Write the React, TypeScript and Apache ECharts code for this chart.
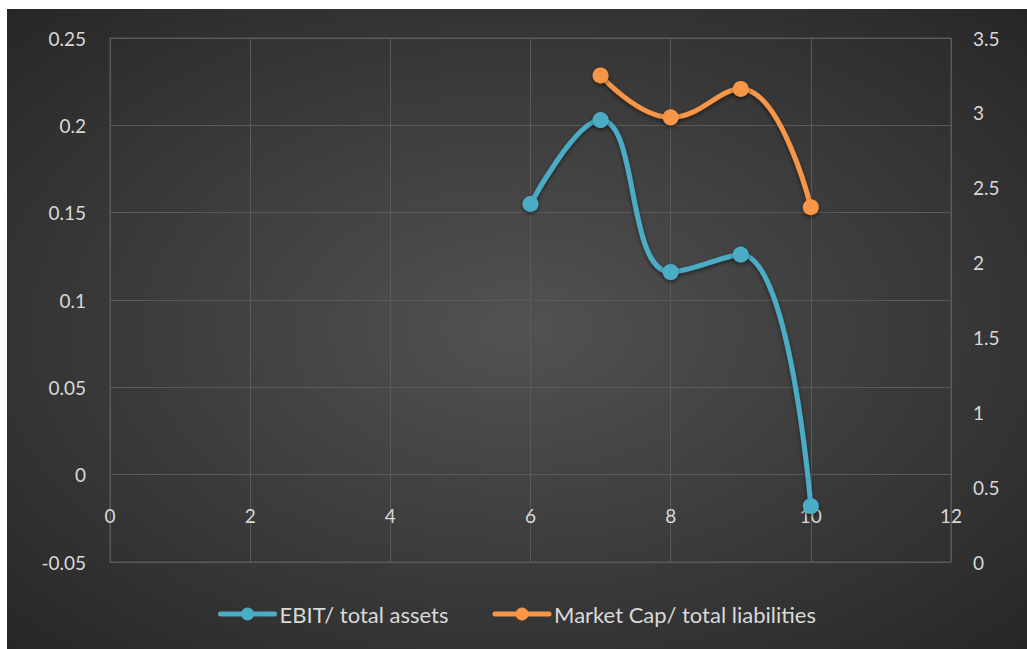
import React, { useEffect, useRef } from "react";
import * as echarts from "echarts";

const xValues = [6, 7, 8, 9, 10];
const ebitAssets = [0.155, 0.203, 0.116, 0.126, -0.018];
const marketCapLiab = [null, 3.25, 2.97, 3.16, 2.37];
const seriesNames = ["EBIT/ total assets", "Market Cap/ total liabilities"];

const FONT = "Lato";
const TEXT = "#d9d9d9";
const GRID = "#5a5a5a";

export default function App() {
  const ref = useRef<HTMLDivElement>(null);
  useEffect(() => {
    if (!ref.current) return;
    const chart = echarts.init(ref.current, null, { renderer: "svg" });
    const pair = (ys: (number | null)[]) =>
      xValues.map((x, i) => (ys[i] === null ? null : [x, ys[i]])).filter((d) => d !== null);
    const lineSeries = (name: string, data: any, color: string, yAxisIndex: number) => ({
      name,
      type: "line",
      yAxisIndex,
      data,
      smooth: 0.45,
      symbol: "circle",
      symbolSize: 16,
      lineStyle: {
        width: 5,
        color,
        shadowColor: "rgba(0,0,0,0.5)",
        shadowBlur: 4,
        shadowOffsetY: 2,
        cap: "round",
      },
      itemStyle: {
        color,
        shadowColor: "rgba(0,0,0,0.5)",
        shadowBlur: 4,
        shadowOffsetY: 2,
      },
    });
    chart.setOption({
      animation: false,
      backgroundColor: new echarts.graphic.RadialGradient(0.5, 0.5, 0.75, [
        { offset: 0, color: "#525252" },
        { offset: 1, color: "#242424" },
      ]),
      textStyle: { fontFamily: FONT, color: TEXT },
      grid: { left: 103, right: 76, top: 29, bottom: 87, show: true, borderColor: GRID, borderWidth: 1 },
      legend: {
        bottom: 19,
        left: "center",
        itemWidth: 54,
        itemHeight: 16,
        itemGap: 44,
        lineStyle: { width: 5 },
        itemStyle: { borderWidth: 0 },
        textStyle: { color: TEXT, fontSize: 22, fontFamily: FONT },
        data: seriesNames,
      },
      xAxis: {
        type: "value",
        min: 0,
        max: 12,
        interval: 2,
        axisLine: { show: false, onZero: false },
        axisTick: { show: false },
        axisLabel: { color: TEXT, fontSize: 19, margin: -56, fontFamily: FONT },
        splitLine: { show: true, lineStyle: { color: GRID, width: 1 } },
      },
      yAxis: [
        {
          type: "value",
          min: -0.05,
          max: 0.25,
          interval: 0.05,
          axisLine: { show: false },
          axisTick: { show: false },
          axisLabel: { color: TEXT, fontSize: 19, margin: 24, fontFamily: FONT },
          splitLine: { show: true, lineStyle: { color: GRID, width: 1 } },
        },
        {
          type: "value",
          min: 0,
          max: 3.5,
          interval: 0.5,
          position: "right",
          axisLine: { show: false },
          axisTick: { show: false },
          axisLabel: { color: TEXT, fontSize: 19, margin: 22, fontFamily: FONT },
          splitLine: { show: false },
        },
      ],
      series: [
        lineSeries(seriesNames[0], pair(ebitAssets), "#4bacc6", 0),
        lineSeries(seriesNames[1], pair(marketCapLiab), "#f79646", 1),
      ],
    });
    return () => chart.dispose();
  }, []);
  return (
    <div
      ref={ref}
      style={{ position: "absolute", left: 7, top: 9, width: 1020, height: 640 }}
    />
  );
}
